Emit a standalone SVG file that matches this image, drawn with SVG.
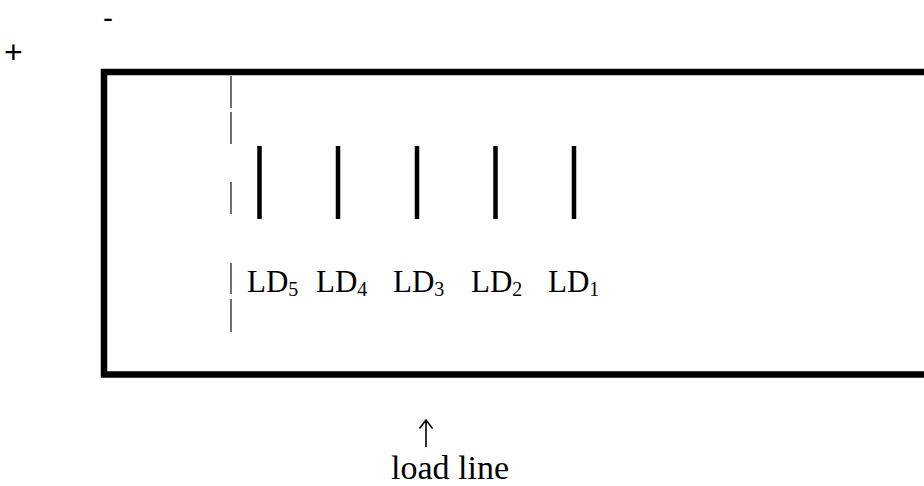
<svg xmlns="http://www.w3.org/2000/svg" width="924" height="486" viewBox="0 0 924 486">
  <style>
    .sans { font-family: "Liberation Sans", Arial, sans-serif; fill: #000; }
    .serif { font-family: "Liberation Serif", "Times New Roman", serif; fill: #000; }
    .lbl { font-size: 31px; }
    .sub { font-size: 20px; }
    .dash { stroke: #333; stroke-width: 1.4; }
    .bar { stroke: #000; stroke-width: 4.5; }
    .arrow { stroke: #000; stroke-width: 1.6; fill: none; }
  </style>
  <rect width="924" height="486" fill="#fff"/>

  <!-- polarity marks -->
  <text class="sans" x="103" y="28" font-size="30">-</text>
  <text class="sans" x="4" y="63" font-size="32">+</text>

  <!-- enclosure -->
  <g id="box">
    <rect x="104" y="72" width="860" height="302.5" fill="none" stroke="#000" stroke-width="6.5"/>
  </g>

  <!-- dashed reference line -->
  <g id="ref-line">
    <line class="dash" x1="231" y1="76" x2="231" y2="108"/>
    <line class="dash" x1="231" y1="112" x2="231" y2="144"/>
    <line class="dash" x1="231" y1="182" x2="231" y2="214"/>
    <line class="dash" x1="231" y1="263" x2="231" y2="294"/>
    <line class="dash" x1="231" y1="299" x2="231" y2="332"/>
  </g>

  <!-- load elements -->
  <g id="LD5"><line class="bar" x1="259.5" y1="146" x2="259.5" y2="219"/>
    <text class="serif lbl" x="247" y="292">LD<tspan class="sub" dy="4">5</tspan></text></g>
  <g id="LD4"><line class="bar" x1="338" y1="146" x2="338" y2="219"/>
    <text class="serif lbl" x="316" y="292">LD<tspan class="sub" dy="4">4</tspan></text></g>
  <g id="LD3"><line class="bar" x1="417" y1="146" x2="417" y2="219"/>
    <text class="serif lbl" x="393" y="292">LD<tspan class="sub" dy="4">3</tspan></text></g>
  <g id="LD2"><line class="bar" x1="495.5" y1="146" x2="495.5" y2="219"/>
    <text class="serif lbl" x="471" y="292">LD<tspan class="sub" dy="4">2</tspan></text></g>
  <g id="LD1"><line class="bar" x1="574" y1="146" x2="574" y2="219"/>
    <text class="serif lbl" x="548" y="292">LD<tspan class="sub" dy="4">1</tspan></text></g>

  <!-- load line caption -->
  <g id="load-line">
    <path class="arrow" d="M426 420 V447 M419.5 428.5 L426 420 L432.5 428.5"/>
    <text class="serif" x="391" y="478.5" font-size="34">load line</text>
  </g>
</svg>
